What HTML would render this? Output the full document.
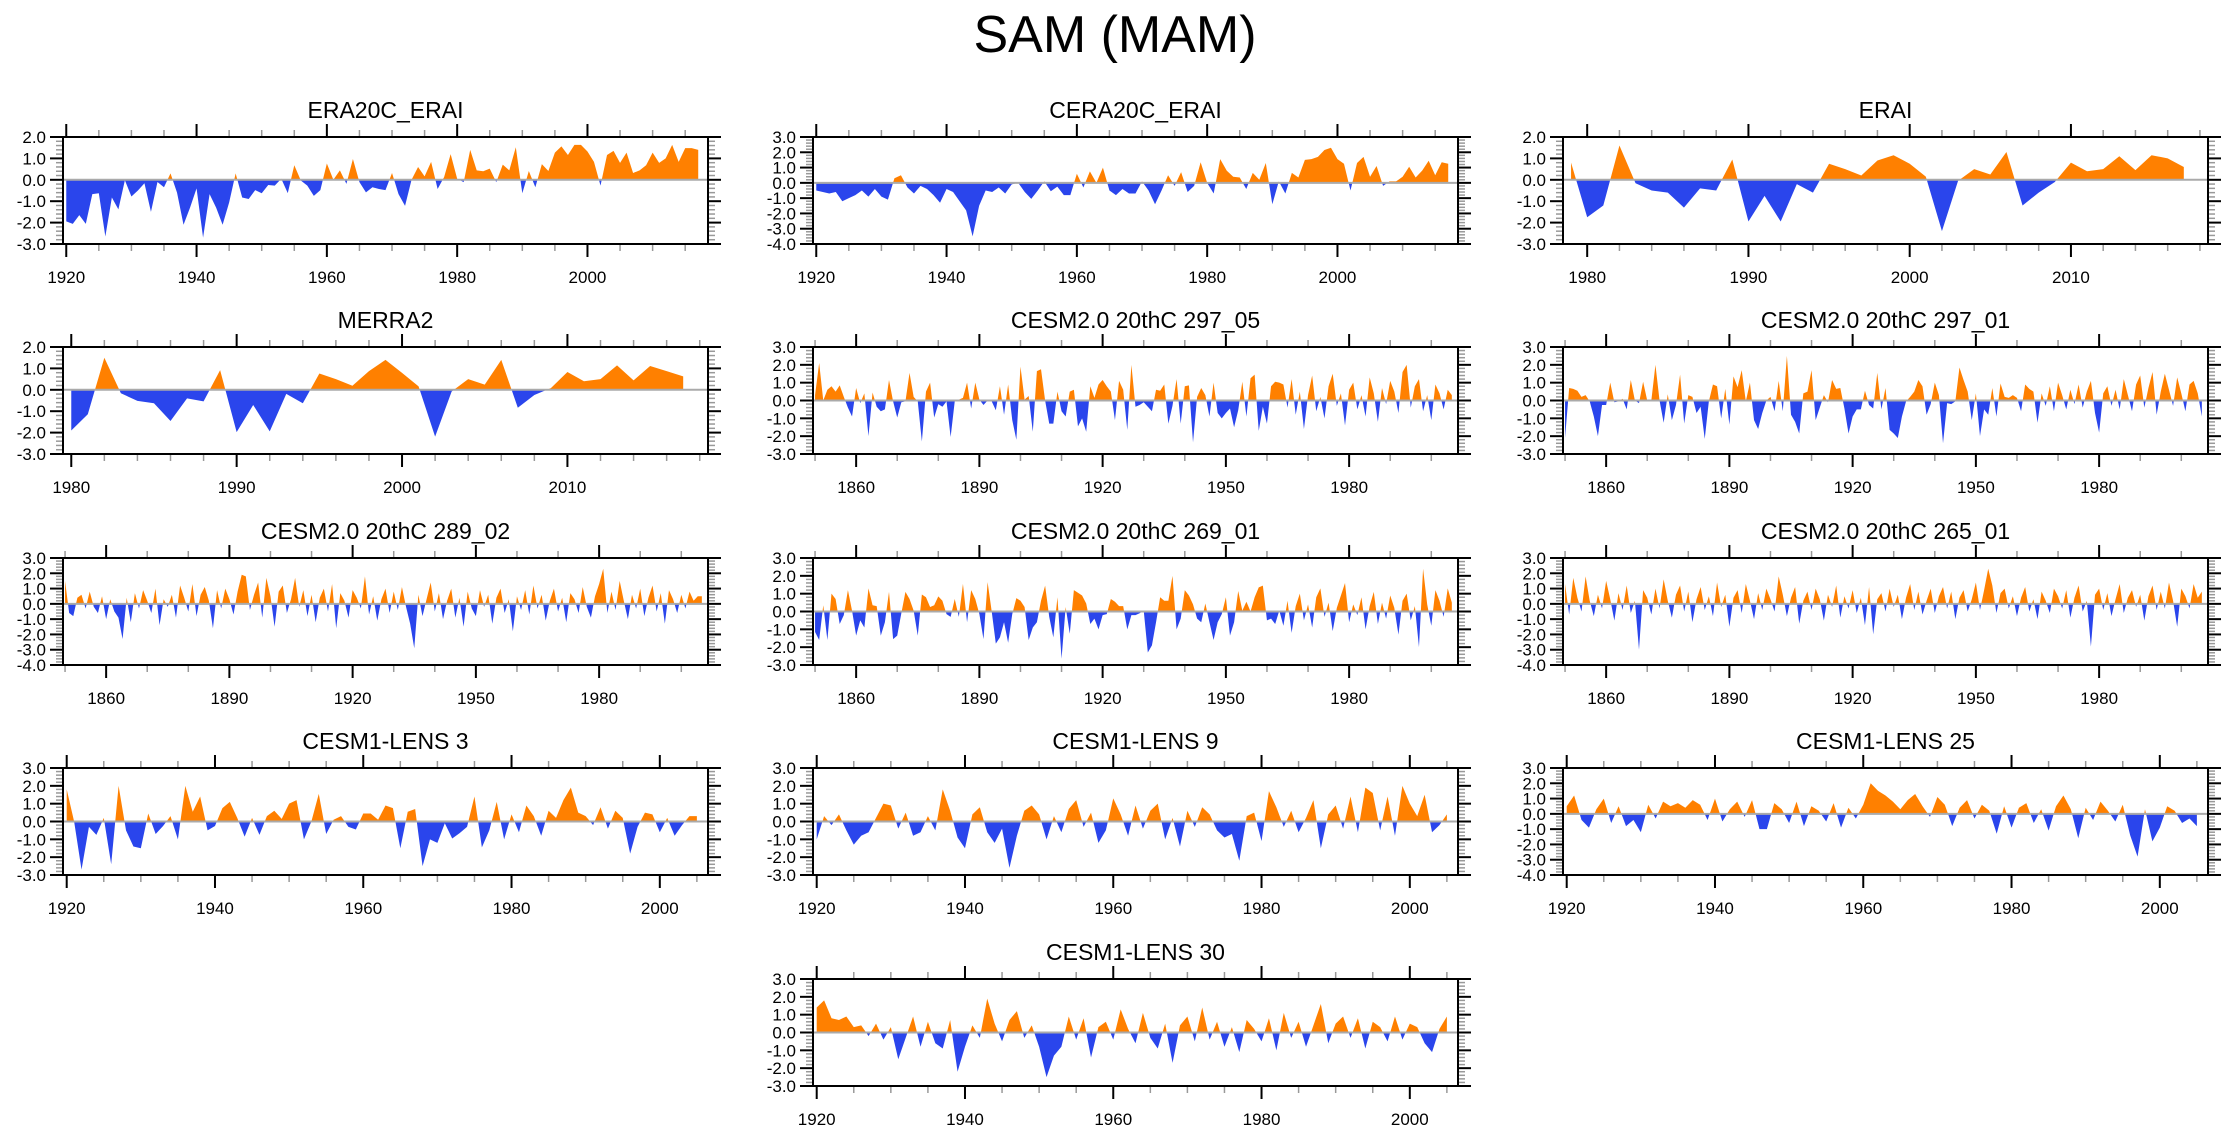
<!DOCTYPE html>
<html><head><meta charset="utf-8"><style>
html,body{margin:0;padding:0;background:#fff;}
svg{display:block;font-family:"Liberation Sans",Arial,sans-serif;}
</style></head><body>
<svg id="chart" width="2230" height="1133" viewBox="0 0 2230 1133" xmlns="http://www.w3.org/2000/svg">
<text x="1115" y="52" font-size="52" text-anchor="middle" fill="#000">SAM (MAM)</text>
</svg>
<script>
// ---- data (SAM index per year) ----
const era20cStart = 1920;
const era20cValues = [-1.94,-2.06,-1.65,-2.06,-0.67,-0.63,-2.65,-0.83,-1.38,-0.02,-0.78,-0.5,-0.16,-1.5,-0.1,-0.35,0.3,-0.6,-2.1,-1.3,-0.4,-2.7,-0.67,-1.3,-2.1,-1.06,0.3,-0.83,-0.9,-0.48,-0.63,-0.24,-0.27,0.05,-0.62,0.68,-0.03,-0.27,-0.75,-0.48,0.76,0.0,0.44,-0.19,0.97,-0.11,-0.59,-0.35,-0.43,-0.48,0.32,-0.67,-1.22,0.0,0.6,0.16,0.84,-0.43,0.13,1.2,0.05,-0.11,1.4,0.44,0.4,0.52,-0.11,0.71,0.44,1.52,-0.63,0.41,-0.35,0.73,0.41,1.27,1.56,1.16,1.63,1.63,1.32,0.84,-0.27,1.16,1.35,0.79,1.27,0.32,0.44,0.68,1.27,0.79,1.0,1.63,0.84,1.48,1.48,1.4];
const cera20cStart = 1920;
const cera20cValues = [-0.5,-0.6,-0.7,-0.6,-1.2,-1.0,-0.8,-0.5,-0.9,-0.4,-0.9,-1.1,0.3,0.5,-0.3,-0.7,-0.2,-0.4,-0.8,-1.3,-0.4,-0.6,-1.2,-1.8,-3.5,-1.5,-0.5,-0.6,-0.3,-0.7,-0.1,0.0,-0.6,-1.05,-0.5,0.1,-0.55,-0.25,-0.8,-0.8,0.6,-0.3,0.75,0.0,1.0,-0.5,-0.8,-0.4,-0.7,-0.7,0.1,-0.5,-1.4,-0.5,0.5,-0.2,0.7,-0.6,-0.2,1.35,0.0,-0.7,1.55,0.8,0.4,0.35,-0.4,0.65,0.2,1.3,-1.4,0.1,-0.7,0.65,0.35,1.5,1.55,1.7,2.15,2.3,1.55,1.25,-0.5,1.3,1.7,0.4,1.1,-0.2,0.1,0.1,0.4,1.05,0.35,0.8,1.45,0.5,1.35,1.25];
const eraiStart = 1979;
const eraiValues = [0.8,-1.75,-1.2,1.6,-0.16,-0.5,-0.6,-1.3,-0.4,-0.5,0.95,-1.95,-0.75,-1.95,-0.2,-0.6,0.75,0.5,0.2,0.9,1.15,0.75,0.15,-2.4,-0.05,0.5,0.25,1.3,-1.2,-0.6,-0.1,0.8,0.4,0.5,1.1,0.45,1.15,1.0,0.6];
const merra2Start = 1980;
const merra2Values = [-1.9,-1.14,1.5,-0.16,-0.52,-0.63,-1.46,-0.4,-0.54,0.92,-1.98,-0.71,-1.94,-0.19,-0.63,0.76,0.5,0.19,0.87,1.4,0.79,0.16,-2.19,-0.08,0.5,0.24,1.4,-0.84,-0.24,0.08,0.83,0.4,0.5,1.14,0.44,1.11,0.87,0.63];
const c297_05Start = 1850;
const c297_05Values = [0.3,2.1,0,0.6,0.8,0.5,0.85,0.2,-0.4,-0.9,0.7,-0.15,0.4,-2.0,0.45,-0.35,-0.6,-0.5,1.15,-0.05,-0.95,-0.1,-0.05,1.55,0.2,-0.05,-2.3,0.5,1.0,-0.95,-0.2,-0.35,-0.05,-2.05,-0.05,0.05,0.15,1.0,-0.45,1.0,0.05,-0.25,0,-0.05,-0.55,0.8,-0.8,0.9,-1.1,-2.2,1.9,0.05,0.25,-1.75,1.65,1.75,0,-1.3,-1.3,0.5,-0.6,-0.9,0.5,0.6,-1.45,-1.0,-1.75,0.8,0.15,0.9,1.15,0.8,0.5,-1.1,1.1,0.6,-1.65,2.0,-0.35,-0.25,-0.1,-0.35,-0.6,0.6,0.55,0.9,-1.3,-0.3,1.2,-1.3,0.8,0.85,-2.35,0.2,0.7,0.3,-0.9,1.0,-0.7,-1.0,-0.7,-0.45,-1.5,-0.55,1.05,-0.9,1.25,1.45,-1.7,-0.35,-1.3,0.8,1.05,1.0,
0.9,-0.4,1.2,-0.8,0.5,-1.6,0.3,1.4,-0.6,0.2,-1.0,0.8,1.5,-0.3,0.4,-1.4,0.6,1.0,-0.5,0.3,-0.9,1.3,0.4,-1.2,0.7,-0.2,1.1,0.5,-0.7,1.6,2.0,-0.4,0.8,1.2,-0.6,0.3,-1.1,0.9,0.4,-0.5,0.6,0.3];
const c297_01Start = 1850;
const c297_01Values = [-2.1,0.7,0.65,0.55,0.2,0.3,-0.05,-0.9,-2.0,-0.25,-0.25,1.0,-0.1,-0.05,0.1,-0.5,1.15,0,-0.15,1.05,0,0,2.0,0,-1.25,0.35,-1.1,-0.25,1.45,-1.3,0.3,0.2,-0.7,-0.35,-2.15,-0.05,0.9,0.8,-1.0,0.65,-1.35,1.35,0.75,1.7,-0.05,1.0,-1.1,-1.6,-0.7,0,0.2,-0.6,1.1,-0.6,2.5,-0.8,-1.2,-1.85,0.4,0.5,1.7,-1.1,-0.4,0.3,-0.1,1.15,0.65,0.7,-0.45,-1.85,-0.9,-0.5,-0.5,0.55,-0.25,-0.45,1.55,-0.5,0.7,-1.65,-1.85,-2.1,-0.9,-0.05,0.2,0.5,1.15,0.8,-0.8,-0.2,1.0,0.3,-2.4,-0.15,-0.2,-0.05,1.85,1.15,0.5,-1.1,0.4,-2.0,-0.5,-0.8,0.7,-0.9,0.95,0.2,0.15,0.3,0.15,-0.6,0.9,0.65,0.5,-1.25,
0.4,-0.3,0.8,-0.6,1.0,0.3,-0.5,0.6,-0.2,0.9,-0.4,0.5,1.1,-0.7,-1.8,0.4,0.8,-0.3,0.6,-0.5,1.2,0.3,-0.6,0.9,1.4,-0.4,0.7,1.6,-0.8,0.5,1.5,0.6,-0.3,1.3,0.4,-0.6,0.9,1.1,0.4,-0.9];
const c289_02Start = 1850;
const c289_02Values = [1.5,-0.6,-0.8,0.4,0.6,-0.3,0.8,-0.2,-0.6,0.5,-1.0,0.3,-0.5,-0.9,-2.3,0.4,-1.2,0.7,-0.3,0.9,0.2,-0.6,1.0,-1.4,0.3,-0.2,0.6,-0.9,1.2,0.4,-0.5,1.3,-0.8,0.6,1.1,0.2,-1.6,0.9,-0.3,1.0,0.3,-0.7,0.8,1.9,1.8,-0.4,0.6,1.4,-0.9,1.7,0.5,-1.5,0.8,1.2,-0.6,0.3,1.7,-0.2,0.9,-0.8,0.6,-1.2,0.4,1.0,-0.5,1.3,-1.6,0.7,0.2,-0.9,0.9,0.4,-0.3,1.8,-0.7,0.5,-1.1,0.3,1.0,-0.6,0.8,-0.4,1.1,-0.2,-1.3,-2.9,0.6,-0.8,0.3,1.4,-0.5,0.7,-1.0,0.2,1.0,-0.9,0.4,-1.5,0.8,-0.3,-0.8,0.9,-0.2,0.6,-1.3,0.4,1.0,-0.6,0.3,-1.8,0.5,-0.4,0.9,-0.7,1.2,-0.3,0.6,-1.1,0.2,1.0,-0.5,0.4,-1.2,0.7,0.3,-0.6,1.1,-0.2,-0.9,0.5,1.3,2.3,-0.6,0.8,-0.4,1.5,0.2,-1.0,0.6,-0.3,1.0,-0.8,0.4,1.2,-0.5,0.7,-1.3,0.9,0.3,-0.6,0.6,-0.3,0.8,0.2,0.5,0.5];
const c269_01Start = 1850;
const c269_01Values = [-1.15,-1.6,0.35,-1.6,1.0,0.7,-0.7,-0.2,1.2,0.05,-1.35,-0.5,-0.9,1.3,0.35,0.3,-1.35,-0.6,1.1,-1.55,-1.35,-0.1,1.1,0.7,0.05,-1.35,0.95,0.8,0.25,0.35,0.85,0.6,-0.15,-0.3,0.7,-0.3,1.55,-0.6,1.2,0.7,-0.15,-1.55,1.65,0,-1.8,-1.45,-0.6,-1.75,-0.15,0.75,0.6,0.25,-1.6,-0.9,-0.6,0.6,1.45,-0.3,-1.45,0.8,-2.65,0.25,-1.25,1.2,1.05,0.9,0.45,-0.7,-0.4,-1.0,-0.2,-0.15,0.7,0.55,0.3,0.3,-1.0,-0.2,-0.2,-0.1,0.05,-2.3,-1.9,-0.6,0.8,0.6,0.6,2.0,-1.0,-0.4,1.2,0.9,0.4,-0.4,-0.6,0.45,-0.6,-1.6,-0.6,-0.15,0.8,-1.35,-0.6,1.15,0.05,0.55,0,0.8,1.35,1.45,-0.5,-0.4,-0.7,0.05,
-0.8,0.6,-1.2,0.3,1.0,-0.5,0.4,-0.9,0.8,1.3,-0.3,0.5,-1.1,0.2,0.9,1.6,-0.6,0.4,-0.2,0.8,-1.0,0.3,1.1,-0.7,0.5,-0.4,0.9,0.2,-1.3,0.6,1.0,-0.5,0.3,-2.0,2.4,0.4,-0.8,1.2,0.6,-0.3,1.3,0.5];
const c265_01Start = 1850;
const c265_01Values = [1.3,-0.7,1.7,0.4,-0.5,1.8,0.2,-0.8,0.6,-0.3,1.5,0.3,-1.1,0.7,-0.4,1.2,-0.6,0.2,-3.0,0.9,0.4,-0.7,1.0,-0.3,1.6,0.2,-0.9,0.6,1.2,-0.5,0.8,-1.2,0.3,1.1,-0.4,0.5,-0.8,1.4,-0.2,0.6,-1.5,0.4,0.9,-0.6,1.3,0.2,-1.0,0.7,-0.4,1.0,0.3,-0.5,1.8,0.6,-0.8,0.4,1.1,-1.3,0.2,0.8,-0.4,1.0,0.3,-1.1,0.6,-0.2,1.2,-0.9,0.5,-0.3,0.9,-0.6,0.4,-1.4,1.1,-2.0,0.3,0.7,-0.5,1.0,-0.2,0.6,-1.0,0.4,1.3,-0.4,0.8,-0.7,0.2,1.0,-0.6,0.5,1.1,-0.3,0.8,-1.0,0.4,0.9,-0.5,0.3,1.4,-0.4,0.9,2.3,1.2,-0.6,0.7,1.0,-0.3,0.5,-0.8,0.4,1.1,-0.5,0.3,-1.0,0.8,0.2,-0.6,1.0,0.5,-0.3,0.9,-0.9,0.4,1.2,-0.5,0.2,-2.8,0.6,1.0,-0.4,0.7,-0.8,0.3,1.3,-0.6,0.4,0.9,-0.2,0.6,-1.1,0.5,1.2,-0.4,0.8,-0.3,1.4,0.2,-1.5,1.0,0.5,-0.3,1.3,0.4,0.8];
const lens3Start = 1920;
const lens3Values = [1.8,0,-2.7,-0.3,-0.75,0.2,-2.4,2.0,-0.5,-1.4,-1.5,0.45,-0.7,-0.25,0.3,-1.0,2.0,0.55,1.4,-0.5,-0.25,0.75,1.1,0.2,-0.85,0.2,-0.75,0.3,0.6,0.15,1.0,1.2,-1.0,0,1.55,-0.7,0.1,0.3,-0.3,-0.45,0.45,0.45,0.1,0.9,0.75,-1.5,0.55,0.7,-2.5,-1.0,-1.2,-0.1,-0.95,-0.65,-0.3,1.4,-1.45,-0.5,1.1,
-1.0,0.4,-0.6,0.9,0.3,-0.8,0.6,0.2,1.2,1.9,0.5,0.3,-0.2,0.8,-0.4,0.6,0.2,-1.8,-0.3,0.5,0.4,-0.6,0.2,-0.8,-0.2,0.3,0.3];
const lens9Start = 1920;
const lens9Values = [-1.0,0.3,-0.2,0.4,-0.5,-1.3,-0.8,-0.6,0.2,1.0,0.9,-0.4,0.5,-0.8,-0.6,0.3,-0.5,1.8,0.6,-0.9,-1.5,0.4,0.8,-0.6,-1.2,-0.4,-2.6,-0.8,0.6,0.9,0.4,-1.0,0.3,-0.6,0.7,1.2,-0.3,0.5,-1.2,-0.5,1.3,0.4,-0.8,0.9,-0.4,0.6,1.0,-1.0,0.2,-1.4,0.6,-0.3,0.8,0.4,-0.5,-0.9,-0.7,-2.2,0.3,0.5,-1.1,1.7,0.8,-0.3,0.6,-0.6,0.2,1.2,-1.5,0.4,0.9,-0.4,1.4,-0.6,1.9,1.6,-0.5,1.4,-0.8,2.0,1.0,0.3,1.5,-0.6,-0.2,0.4];
const lens25Start = 1920;
const lens25Values = [0.5,1.2,-0.4,-0.9,0.3,1.0,-0.6,0.5,-0.8,-0.4,-1.2,0.6,-0.3,0.8,0.5,0.7,0.4,0.9,0.6,-0.4,1.0,-0.5,0.3,0.8,-0.2,0.9,-1.0,-1.0,0.7,0.3,-0.6,0.8,-0.8,0.5,0.2,-0.5,0.7,-0.9,0.4,-0.3,0.6,2.0,1.5,1.2,0.8,0.3,0.9,1.3,0.5,-0.2,1.1,0.6,-0.8,0.4,0.9,-0.3,0.6,0.2,-1.3,0.5,-0.9,0.4,0.7,-0.6,0.3,-1.1,0.5,1.2,0.3,-1.6,0.4,-0.4,0.8,0.2,-0.5,0.6,-1.4,-2.8,0.3,-1.8,-0.9,0.5,0.2,-0.6,-0.3,-0.8];
const lens30Start = 1920;
const lens30Values = [1.4,1.8,0.8,0.7,0.9,0.3,0.4,-0.2,0.5,-0.4,0.3,-1.5,-0.3,0.9,-0.8,0.6,-0.6,-0.9,0.7,-2.2,-0.8,0.4,-0.3,1.9,0.5,-0.5,0.7,1.2,-0.3,0.4,-0.8,-2.5,-1.3,-0.8,0.9,-0.4,0.8,-1.4,0.3,0.6,-0.4,1.3,0.2,-0.6,1.1,-0.3,-0.9,0.5,-1.7,0.4,0.9,-0.5,1.4,-0.4,0.6,-0.8,0.3,-1.1,0.7,0.2,-0.5,0.8,-1.0,1.1,-0.3,0.6,-0.8,0.4,1.6,-0.6,0.5,0.9,-0.3,0.8,-0.9,0.6,0.3,-0.5,0.9,-0.4,0.5,0.3,-0.6,-1.1,0.2,0.9];
// y-axis ranges
const yRangeA = [-3, 2];
const yRangeB = [-4, 3];
const yRangeC = [-3, 3];

// ---- layout ----
const COLX = [63, 813, 1563], PW = 645;
const ROWY = [137, 347, 558, 768, 979], PH = 107;
const ORANGE = '#ff8000', BLUE = '#2a45ec';

const panels = [
 {name:'era20c-erai', title:'ERA20C_ERAI', r:0, c:0, start:era20cStart, vals:era20cValues, yr:yRangeA, maj:20, min:5, first:1920},
 {name:'cera20c-erai', title:'CERA20C_ERAI', r:0, c:1, start:cera20cStart, vals:cera20cValues, yr:yRangeB, maj:20, min:5, first:1920},
 {name:'erai', title:'ERAI', r:0, c:2, start:eraiStart, vals:eraiValues, yr:yRangeA, maj:10, min:2, first:1980},
 {name:'merra2', title:'MERRA2', r:1, c:0, start:merra2Start, vals:merra2Values, yr:yRangeA, maj:10, min:2, first:1980},
 {name:'cesm2-297-05', title:'CESM2.0 20thC 297_05', r:1, c:1, start:c297_05Start, vals:c297_05Values, yr:yRangeC, maj:30, min:10, first:1860},
 {name:'cesm2-297-01', title:'CESM2.0 20thC 297_01', r:1, c:2, start:c297_01Start, vals:c297_01Values, yr:yRangeC, maj:30, min:10, first:1860},
 {name:'cesm2-289-02', title:'CESM2.0 20thC 289_02', r:2, c:0, start:c289_02Start, vals:c289_02Values, yr:yRangeB, maj:30, min:10, first:1860},
 {name:'cesm2-269-01', title:'CESM2.0 20thC 269_01', r:2, c:1, start:c269_01Start, vals:c269_01Values, yr:yRangeC, maj:30, min:10, first:1860},
 {name:'cesm2-265-01', title:'CESM2.0 20thC 265_01', r:2, c:2, start:c265_01Start, vals:c265_01Values, yr:yRangeB, maj:30, min:10, first:1860},
 {name:'cesm1-lens-3', title:'CESM1-LENS 3', r:3, c:0, start:lens3Start, vals:lens3Values, yr:yRangeC, maj:20, min:5, first:1920},
 {name:'cesm1-lens-9', title:'CESM1-LENS 9', r:3, c:1, start:lens9Start, vals:lens9Values, yr:yRangeC, maj:20, min:5, first:1920},
 {name:'cesm1-lens-25', title:'CESM1-LENS 25', r:3, c:2, start:lens25Start, vals:lens25Values, yr:yRangeB, maj:20, min:5, first:1920},
 {name:'cesm1-lens-30', title:'CESM1-LENS 30', r:4, c:1, start:lens30Start, vals:lens30Values, yr:yRangeC, maj:20, min:5, first:1920}
];

const NS = 'http://www.w3.org/2000/svg';
const svg = document.getElementById('chart');
function mk(tag, attrs, parent){
  const e = document.createElementNS(NS, tag);
  for (const k in attrs) e.setAttribute(k, attrs[k]);
  parent.appendChild(e);
  return e;
}
function fmt(v){ return (v<0?'-':'') + Math.abs(v).toFixed(1); }

panels.forEach((p, idx) => {
  const L = COLX[p.c], T = ROWY[p.r], W = PW, H = PH, R = L+W, B = T+H;
  const n = p.vals.length;
  const d0 = p.start - 0.5, d1 = p.start + n - 1 + 1.5;
  const xs = yr => L + (yr - d0) / (d1 - d0) * W;
  const ymin = p.yr[0], ymax = p.yr[1];
  const ys = v => T + (ymax - v) / (ymax - ymin) * H;

  const g = mk('g', {}, svg);
  
  

  const t = mk('text', {x:(L+R)/2, y:T-19, 'font-size':23, 'text-anchor':'middle', fill:'#000'}, g);
  
  
  t.textContent = p.title;

  const cid = 'c' + idx;
  const defs = mk('defs', {}, g);
  const cpU = mk('clipPath', {id: cid+'u'}, defs);
  mk('rect', {x:L, y:T, width:W, height:ys(0)-T}, cpU);
  const cpD = mk('clipPath', {id: cid+'d'}, defs);
  mk('rect', {x:L, y:ys(0), width:W, height:B-ys(0)}, cpD);
  let dstr = 'M' + xs(p.start).toFixed(2) + ',' + ys(0).toFixed(2);
  p.vals.forEach((v, i) => { dstr += 'L' + xs(p.start+i).toFixed(2) + ',' + ys(v).toFixed(2); });
  dstr += 'L' + xs(p.start+n-1).toFixed(2) + ',' + ys(0).toFixed(2) + 'Z';
  const pos = mk('path', {d:dstr, fill:ORANGE, 'clip-path':'url(#'+cid+'u)'}, g);
  
  
  const neg = mk('path', {d:dstr, fill:BLUE, 'clip-path':'url(#'+cid+'d)'}, g);
  
  

  const zl = mk('line', {x1:L, x2:R, y1:ys(0), y2:ys(0), stroke:'#aaa', 'stroke-width':2}, g);
  
  

  for (let k = Math.round(ymin*5); k <= Math.round(ymax*5); k++) {
    const v = k/5, yy = ys(v), major = (k % 5 === 0);
    const len = major ? 13 : 7, col = major ? '#000' : '#999', sw = major ? 2 : 1.5;
    mk('line', {x1:L-len, x2:L, y1:yy, y2:yy, stroke:col, 'stroke-width':sw}, g);
    mk('line', {x1:R, x2:R+len, y1:yy, y2:yy, stroke:col, 'stroke-width':sw}, g);
    if (major) {
      const lb = mk('text', {x:L-17, y:yy+6, 'font-size':17, 'text-anchor':'end', fill:'#000'}, g);
      
      
      lb.textContent = fmt(v);
    }
  }
  const firstMinor = Math.ceil(d0 / p.min) * p.min;
  for (let yr = firstMinor; yr <= d1; yr += p.min) {
    const xx = xs(yr);
    const major = ((yr - p.first) % p.maj === 0) && yr >= p.first - p.maj;
    const len = major ? 13 : 7, col = major ? '#000' : '#999', sw = major ? 2 : 1.5;
    mk('line', {x1:xx, x2:xx, y1:T-len, y2:T, stroke:col, 'stroke-width':sw}, g);
    mk('line', {x1:xx, x2:xx, y1:B, y2:B+len, stroke:col, 'stroke-width':sw}, g);
    if (major && yr >= d0 && yr <= d1) {
      const lb = mk('text', {x:xx, y:B+39, 'font-size':17, 'text-anchor':'middle', fill:'#000'}, g);
      
      
      lb.textContent = String(yr);
    }
  }
  const fr = mk('rect', {x:L, y:T, width:W, height:H, fill:'none', stroke:'#000', 'stroke-width':2}, g);
  
  
});
</script>
</body></html>
